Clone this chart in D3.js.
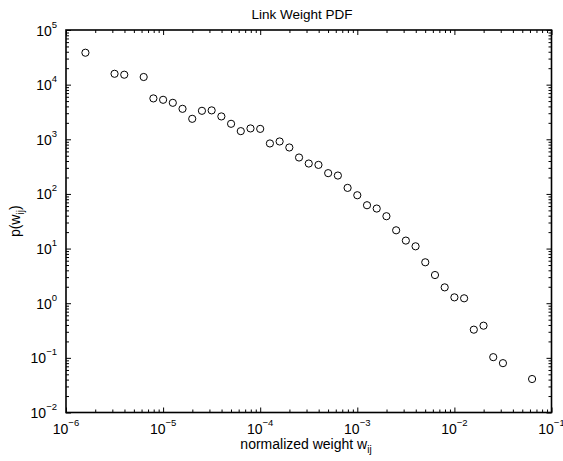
<!DOCTYPE html>
<html>
<head>
<meta charset="utf-8">
<script src="https://cdn.jsdelivr.net/npm/d3@7.9.0/dist/d3.min.js"></script>
<style>
  body { margin: 0; background: #fff; }
  text { font-family: "Liberation Sans", Arial, Helvetica, sans-serif; fill: #000; }
</style>
</head>
<body>
<svg id="chart" width="563" height="461"></svg>
<script>
// log10 of the normalized weight for each bin
const weightLog10 = [
  -5.8, -5.5, -5.4, -5.2, -5.1, -5.0, -4.9, -4.8, -4.7, -4.6,
  -4.5, -4.4, -4.3, -4.2, -4.1, -4.0, -3.9, -3.8, -3.7, -3.6,
  -3.5, -3.4, -3.3, -3.2, -3.1, -3.0, -2.9, -2.8, -2.7, -2.6,
  -2.5, -2.4, -2.3, -2.2, -2.1, -2.0, -1.9, -1.8, -1.7, -1.6,
  -1.5, -1.2
];
// p(w_ij) for each bin
const density = [
  38400, 15800, 15200, 13800, 5600, 5280, 4650, 3610, 2370, 3320,
  3380, 2620, 1920, 1410, 1580, 1550, 839, 912, 708, 464,
  360, 340, 240, 217, 129, 94.6, 62.1, 54.0, 39.1, 21.6,
  14.0, 11.0, 5.61, 3.28, 1.95, 1.28, 1.23, 0.328, 0.388, 0.103,
  0.080, 0.041
];
const xTickExp = [-6, -5, -4, -3, -2, -1];
const yTickExp = [-2, -1, 0, 1, 2, 3, 4, 5];

const points = weightLog10.map((e, i) => ({ w: Math.pow(10, e), p: density[i] }));

const svg = d3.select('#chart');
const plotL = 66, plotR = 551.5, plotT = 30, plotB = 412.5;

const x = d3.scaleLog().domain([1e-6, 1e-1]).range([plotL, plotR]);
const y = d3.scaleLog().domain([1e-2, 1e5]).range([plotB, plotT]);

// minor ticks 2..9 in each decade
const minors = (exps) => {
  let out = [];
  for (let i = 0; i < exps.length - 1; i++) {
    for (let m = 2; m <= 9; m++) out.push(m * Math.pow(10, exps[i]));
  }
  return out;
};
const xMajor = xTickExp.map((e) => Math.pow(10, e));
const yMajor = yTickExp.map((e) => Math.pow(10, e));
const xMinor = minors(xTickExp);
const yMinor = minors(yTickExp);

const tickAxis = (axis, vals, size, transform) => {
  const g = svg.append('g')
    .attr('transform', transform)
    .call(axis.tickValues(vals).tickSize(size).tickSizeOuter(0).tickFormat(''));
  g.select('.domain').remove();
  g.selectAll('line').attr('stroke', '#000').attr('stroke-width', 1);
};

tickAxis(d3.axisBottom(x), xMajor, -5, `translate(0,${plotB})`);
tickAxis(d3.axisBottom(x), xMinor, -3, `translate(0,${plotB})`);
tickAxis(d3.axisTop(x), xMajor, -5, `translate(0,${plotT})`);
tickAxis(d3.axisTop(x), xMinor, -3, `translate(0,${plotT})`);
tickAxis(d3.axisLeft(y), yMajor, -5, `translate(${plotL},0)`);
tickAxis(d3.axisLeft(y), yMinor, -3, `translate(${plotL},0)`);
tickAxis(d3.axisRight(y), yMajor, -5, `translate(${plotR},0)`);
tickAxis(d3.axisRight(y), yMinor, -3, `translate(${plotR},0)`);

// box
svg.append('rect')
  .attr('x', plotL).attr('y', plotT)
  .attr('width', plotR - plotL).attr('height', plotB - plotT)
  .attr('fill', 'none').attr('stroke', '#000').attr('stroke-width', 1.6);

// tick labels: 10 with superscript exponent
xTickExp.forEach((e) => {
  const t = svg.append('text')
    .attr('x', x(Math.pow(10, e)))
    .attr('y', plotB + 21.5)
    .attr('text-anchor', 'middle')
    .style('font-size', '14px');
  t.append('tspan').text('10');
  t.append('tspan').attr('dy', -8).style('font-size', '9.5px').text('\u2212' + Math.abs(e));
});

yTickExp.forEach((e) => {
  const t = svg.append('text')
    .attr('x', plotL - 9)
    .attr('y', y(Math.pow(10, e)) + 5.5)
    .attr('text-anchor', 'end')
    .style('font-size', '14px');
  t.append('tspan').text('10');
  t.append('tspan').attr('dy', -8).style('font-size', '9.5px')
    .text(e < 0 ? '\u2212' + Math.abs(e) : String(e));
});

// markers
svg.append('g')
  .selectAll('circle')
  .data(points)
  .join('circle')
  .attr('cx', (d) => x(d.w))
  .attr('cy', (d) => y(d.p))
  .attr('r', 3.6)
  .attr('fill', 'none')
  .attr('stroke', '#000')
  .attr('stroke-width', 1);

// title
svg.append('text')
  .attr('x', 302).attr('y', 19)
  .attr('text-anchor', 'middle')
  .style('font-size', '13.5px')
  .text('Link Weight PDF');

// x label
const xl = svg.append('text')
  .attr('x', 306).attr('y', 449)
  .attr('text-anchor', 'middle')
  .style('font-size', '14px');
xl.append('tspan').text('normalized weight w');
xl.append('tspan').attr('dy', 4).style('font-size', '10px').text('ij');

// y label
const yl = svg.append('text')
  .attr('transform', `translate(20,${(plotT + plotB) / 2}) rotate(-90)`)
  .attr('text-anchor', 'middle')
  .style('font-size', '14px');
yl.append('tspan').text('p(w');
yl.append('tspan').attr('dy', 4).style('font-size', '10px').text('ij');
yl.append('tspan').attr('dy', -4).text(')');
</script>
</body>
</html>
